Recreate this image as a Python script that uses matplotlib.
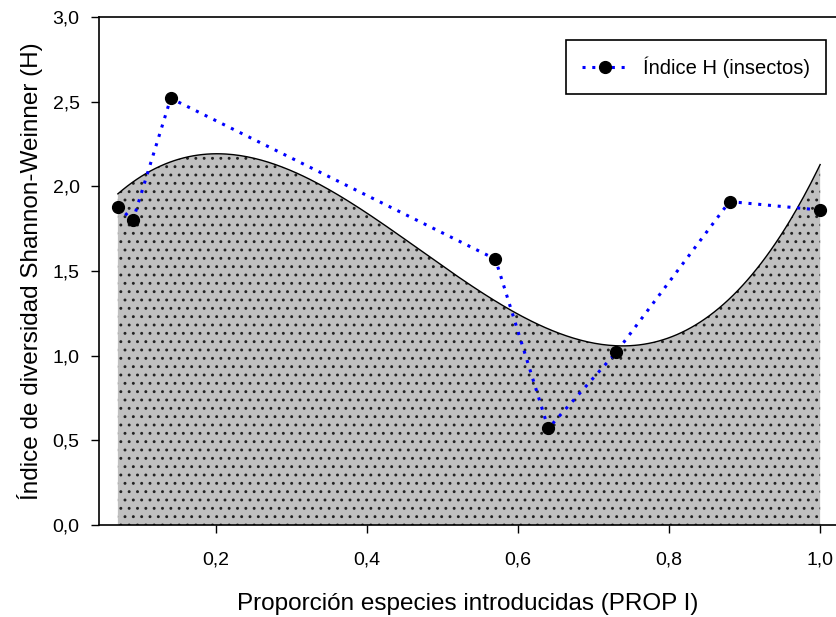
import numpy as np
import matplotlib
matplotlib.use('Agg')
import matplotlib.pyplot as plt
from matplotlib.ticker import FuncFormatter

plt.rcParams['font.family'] = ['Liberation Sans', 'DejaVu Sans']
plt.rcParams['hatch.linewidth'] = 0.9

# datos: proporcion de especies introducidas vs indice H
prop_i = [0.07, 0.09, 0.14, 0.57, 0.64, 0.73, 0.88, 1.00]
indice_h = [1.88, 1.80, 2.52, 1.57, 0.57, 1.02, 1.91, 1.86]

x_ticks = [0.2, 0.4, 0.6, 0.8, 1.0]
y_ticks = [0.0, 0.5, 1.0, 1.5, 2.0, 2.5, 3.0]

# ajuste polinomico de grado 3
coef = np.polyfit(prop_i, indice_h, 3)
xs = np.linspace(min(prop_i), max(prop_i), 300)
ys = np.polyval(coef, xs)

fig = plt.figure(figsize=(8.36, 6.17), dpi=100)
ax = fig.add_axes([99/836, 1 - 525/617, 1 - 99/836, (525 - 17)/617])

ax.fill_between(xs, 0, ys, facecolor='#c0c0c0', edgecolor='#222222',
                hatch='..', linewidth=0)
ax.plot(xs, ys, color='black', lw=1.0)
ax.plot(prop_i, indice_h, color='#0000ff', ls=(0, (1, 2.2)), lw=2.2,
        marker='o', markersize=8.5, markerfacecolor='black',
        markeredgecolor='black', label='Índice H (insectos)')

ax.set_xlim(0.045, 1.021)
ax.set_ylim(0, 3.0)
ax.set_xticks(x_ticks)
ax.set_yticks(y_ticks)
fmt = FuncFormatter(lambda v, p: f'{v:.1f}'.replace('.', ','))
ax.xaxis.set_major_formatter(fmt)
ax.yaxis.set_major_formatter(fmt)
ax.tick_params(direction='out', length=6, width=1, labelsize=14)
ax.tick_params(axis='x', pad=13)
ax.tick_params(axis='y', pad=8)
ax.spines['right'].set_visible(False)
for s in ['left', 'bottom', 'top']:
    ax.spines[s].set_linewidth(1.2)

ax.set_xlabel('Proporción especies introducidas (PROP I)', fontsize=17.5, labelpad=18)
ax.set_ylabel('Índice de diversidad Shannon-Weinner (H)', fontsize=17.5, labelpad=7)

leg = ax.legend(loc='upper right', bbox_to_anchor=(826/836, 1 - 40/617),
                bbox_transform=fig.transFigure, fontsize=14.5, fancybox=False,
                edgecolor='black', framealpha=1, handlelength=2.2,
                borderpad=0.8, borderaxespad=0)
leg.get_frame().set_linewidth(1.2)

fig.savefig('out.png', dpi=100)
